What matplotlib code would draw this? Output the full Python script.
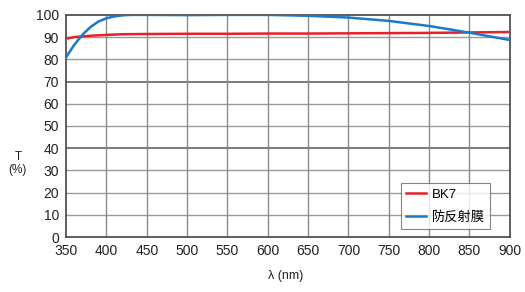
import matplotlib
matplotlib.use("Agg")
import matplotlib.pyplot as plt

plt.rcParams['font.family'] = ['Liberation Sans', 'Noto Sans CJK SC', 'DejaVu Sans']

wl_bk7 = [350, 360, 370, 380, 390, 400, 420, 450, 500, 550, 600, 650, 700, 750, 800, 850, 900]
t_bk7 = [89.3, 90.0, 90.3, 90.6, 90.8, 91.0, 91.3, 91.4, 91.5, 91.5, 91.6, 91.6, 91.7, 91.8, 91.9, 92.1, 92.3]

wl_ar = [350, 360, 370, 380, 390, 400, 410, 420, 430, 450, 500, 550, 600, 650, 700, 750, 800, 850, 900]
t_ar = [81.0, 86.5, 91.0, 94.5, 97.0, 98.5, 99.3, 99.8, 100.0, 100.0, 99.9, 100.0, 100.0, 99.6, 98.8, 97.3, 95.0, 92.0, 88.7]

series_names = ["BK7", "防反射膜"]
x_ticks = list(range(350, 901, 50))
y_ticks = list(range(0, 101, 10))

fig = plt.figure(figsize=(5.25, 2.92), dpi=100)
ax = fig.add_axes([0.126, 0.188, 0.845, 0.761])

dark_y = {40, 70}
for y in y_ticks[1:-1]:
    ax.axhline(y, color='#555555' if y in dark_y else '#9a9a9a', lw=1.1 if y in dark_y else 1.0, zorder=1)
for x in x_ticks[1:-1]:
    ax.axvline(x, color='#8a8a8a', lw=1.0, zorder=1)

ax.plot(wl_bk7, t_bk7, color='#e8202a', lw=1.8, label=series_names[0], zorder=3)
ax.plot(wl_ar, t_ar, color='#1a7ac8', lw=1.8, label=series_names[1], zorder=4)

ax.set_xlim(350, 900)
ax.set_ylim(0, 100)
ax.set_xticks(x_ticks)
ax.set_yticks(y_ticks)
ax.tick_params(length=0, labelsize=10, pad=5, colors='#222222')
for s in ax.spines.values():
    s.set_color('#444444')
    s.set_linewidth(1.2)

fig.text(0.034, 0.44, "T\n(%)", ha='center', va='center', fontsize=8.5, color='#222222', linespacing=1.2)
fig.text(0.545, 0.055, "λ (nm)", ha='center', va='center', fontsize=9, color='#222222')

leg = ax.legend(loc='lower right', bbox_to_anchor=(0.955, 0.035), fontsize=9.5, frameon=True,
                fancybox=False, edgecolor='#666666', handlelength=1.5, handletextpad=0.4,
                borderpad=0.4, labelspacing=0.8, borderaxespad=0)
leg.get_frame().set_linewidth(0.8)

fig.savefig("out.png", dpi=100)
